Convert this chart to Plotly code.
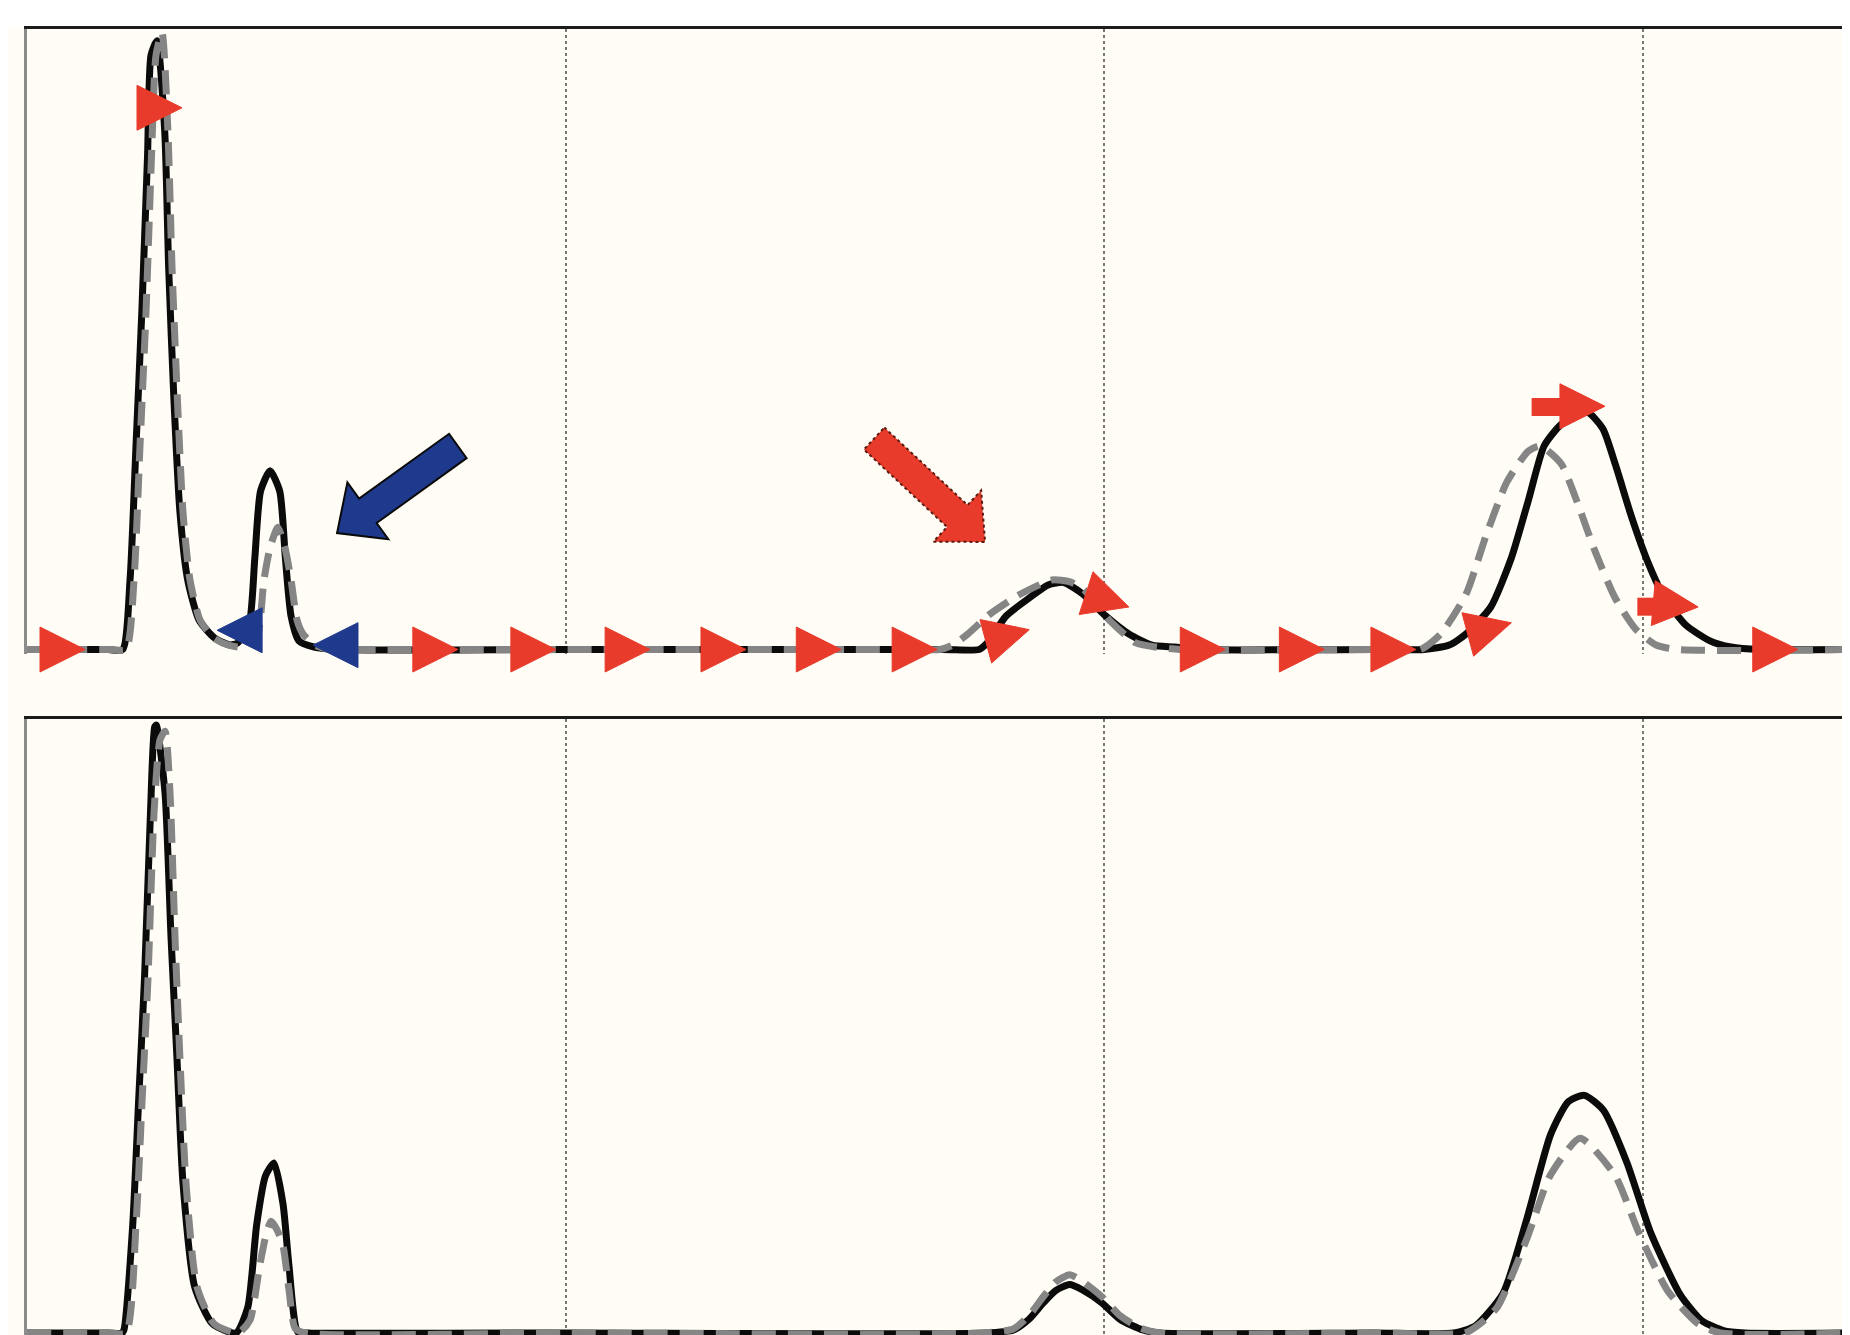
import math
import plotly.graph_objects as go

# ---------------- data (x: time units, y: % of tallest peak) -------------
TOP_BLACK_X = [0, 1.50, 1.775, 1.913, 2.024, 2.132, 2.238, 2.303, 2.414, 2.559, 2.630, 2.730, 2.841,
               2.984, 3.194, 3.484, 3.770, 3.909, 4.123, 4.230, 4.336, 4.513, 4.693, 4.798, 4.903, 5.049,
               5.33, 5.8, 10, 17.0, 17.68, 17.83, 18.18, 18.61, 18.96, 19.25, 19.61, 20.03, 20.46, 20.89,
               21.31, 21.78, 25.0, 25.94, 26.41, 26.72, 27.18, 27.56, 27.88, 28.17, 28.49, 28.95, 29.26,
               29.49, 29.80, 30.10, 30.41, 30.80, 31.25, 31.64, 32.18, 33.9]
TOP_BLACK_Y = [0, 0, 0, 11.2, 32.8, 54.4, 79.5, 95.8, 98.1, 83.2, 61.6, 39.9, 22.0,
               11.2, 4.75, 1.85, 0.72, 1.05, 3.95, 14.7, 25.5, 28.8, 25.5, 14.7, 5.4, 1.4,
               0.4, 0, 0, 0, 0, 1.05, 5.4, 8.3, 10.4, 10.8, 8.9, 5.4, 2.5, 0.72,
               0.4, 0, 0, 0, 0.72, 2.5, 6.85, 14.7, 24.1, 32.8, 36.3, 38.4, 35.6,
               29.9, 21.2, 14.0, 8.3, 3.95, 1.4, 0.4, 0, 0]

TOP_GRAY_X = [0, 1.55, 1.838, 1.987, 2.098, 2.21, 2.312, 2.396, 2.507, 2.618, 2.693, 2.795, 2.897,
              3.027, 3.213, 3.47, 3.733, 3.956, 4.253, 4.40, 4.513, 4.657, 4.79, 4.903, 5.014, 5.125,
              5.348, 5.63, 6.2, 10, 16.5, 16.95, 17.19, 17.47, 17.88, 18.44, 19.03, 19.37, 19.61,
              20.10, 20.59, 20.96, 21.41, 25.0, 25.87, 26.25, 26.72, 27.09, 27.48, 27.88, 28.10,
              28.49, 28.80, 29.10, 29.49, 29.87, 30.25, 30.64, 33.9]
TOP_GRAY_Y = [0, 0, 0, 11.2, 32.8, 54.4, 79.5, 95.8, 99.4, 83.2, 61.6, 39.9, 22.0,
              11.2, 4.75, 1.85, 0.72, 0.4, 1.5, 11.2, 16.4, 19.7, 16.4, 11.2, 4.75, 2.5,
              0.7, 0, 0, 0, 0, 0, 0.72, 2.5, 5.7, 8.9, 11.2, 10.9, 9.75,
              4.7, 1.05, 0.4, 0, 0, 0, 2.5, 8.9, 18.3, 27.0, 32.0, 32.8,
              29.9, 23.4, 16.2, 8.3, 3.3, 0.72, 0, 0]

BOT_BLACK_X = [0, 1.50, 1.764, 1.80, 1.963, 2.072, 2.182, 2.292, 2.37, 2.40, 2.563, 2.674, 2.786,
               2.897, 3.114, 3.443, 3.88, 4.10, 4.264, 4.429, 4.587, 4.754, 4.865, 5.03, 5.26, 10,
               17.8, 18.32, 18.6, 18.87, 19.1, 19.36, 19.6, 19.96, 20.3, 20.72, 21.04, 25, 26.5,
               26.9, 27.41, 27.86, 28.29, 28.62, 28.92, 29.27, 29.71, 30.15, 30.70, 31.1, 31.5, 31.9, 33.9]
BOT_BLACK_Y = [0, 0, 0, 0.5, 17.6, 37.7, 57.8, 84.6, 98.7, 99.0, 87.9, 64.5, 44.5,
               24.3, 7.5, 1.5, 0, 4.2, 17.6, 25.6, 27.7, 21.0, 10.9, 0.16, 0, 0,
               0, 0.5, 2.2, 4.9, 6.9, 7.9, 7.0, 4.9, 2.2, 0.5, 0, 0, 0,
               1.2, 6.5, 18.9, 32.3, 37.7, 38.7, 36.3, 27.7, 16.3, 6.2, 2.0, 0.4, 0, 0]

BOT_GRAY_X = [0, 1.55, 1.838, 2.024, 2.136, 2.247, 2.358, 2.47, 2.563, 2.656, 2.748, 2.841, 2.953,
              3.157, 3.473, 3.918, 4.14, 4.319, 4.438, 4.531, 4.643, 4.754, 4.865, 4.977, 5.16, 10,
              17.7, 18.31, 18.6, 18.87, 19.1, 19.36, 19.6, 19.96, 20.3, 20.67, 21.04, 25, 26.70,
              26.95, 27.30, 27.86, 28.28, 28.84, 29.49, 29.93, 30.47, 31.03, 31.44, 33.9]
BOT_GRAY_Y = [0, 0, 0, 17.6, 37.7, 57.8, 84.6, 96.6, 98.0, 87.9, 64.5, 44.5, 24.3,
              7.5, 1.5, 0, 2.1, 10.9, 16.0, 18.2, 16.8, 14.2, 7.0, 0.8, 0, 0,
              0, 0.65, 2.8, 5.9, 8.3, 9.5, 8.4, 5.9, 2.8, 0.8, 0, 0, 0,
              1.3, 4.2, 15.6, 25.6, 31.7, 25.6, 16.3, 6.8, 1.5, 0, 0]

# direction markers on the upper trace (tip positions)
RED_MARK_X = [1.077, 2.878, 8.00, 9.82, 11.57, 13.35, 15.12, 16.90, 18.61, 20.46,
              22.25, 24.09, 25.79, 27.56, 29.30, 31.03, 32.88, 34.6]
RED_MARK_Y = [0, 87.3, 0, 0, 0, 0, 0, 0, 3.2, 6.85, 0, 0, 0, 4.3, 39.2, 6.85, 0, 0]
RED_MARK_ANGLE = [0, 0, 0, 0, 0, 0, 0, 0, -15, 18, 0, 0, 0, -15, 0, 5, 0, 0]
# short shafts trailing two of the red markers
RED_SHAFT_X = [28.25, 30.07]
RED_SHAFT_Y = [39.1, 6.9]
RED_SHAFT_LEN = [24, 13]
BLUE_MARK_X = [3.53, 5.31]
BLUE_MARK_Y = [3.1, 0.7]

# call-out arrows (tail -> tip) in upper-panel data units
BLUE_ARROW = dict(tail=(8.00, 32.8), tip=(5.757, 18.77))
RED_ARROW = dict(tail=(15.73, 34.0), tip=(17.79, 17.33))

GRID_TICKS = [0, 10, 20, 30]

# ---------------- layout geometry (page body adds an 8px offset) ----------------
OFF = 8
W, H = 1850 - OFF, 1335 - OFF
LEFT_PX = 27 - OFF
X_MAX = 33.85
TOP1, BASE1, BOT1 = 29 - OFF, 649.5 - OFF, 654 - OFF
TOP2, BASE2, BOT2 = 719 - OFF, 1333 - OFF, 1335 - OFF
Y_MAX = 100

SX = (W - LEFT_PX) / X_MAX
SY1 = (BASE1 - TOP1) / Y_MAX
SY2 = (BASE2 - TOP2) / Y_MAX
Y1_MIN = -(BOT1 - BASE1) / SY1
Y2_MIN = -(BOT2 - BASE2) / SY2

CREAM = "#FFFDF6"
BLACK = "#0b0b0b"
GRAY = "#858585"
RED = "#E93B2B"
BLUE = "#1F3A8C"


def arrow_path(tail, tip, sx, sy, shaft_hw=15, head_hw=35, head_len=38):
    tx, ty = tail[0] * sx, tail[1] * sy
    px, py = tip[0] * sx, tip[1] * sy
    dx, dy = px - tx, py - ty
    L = math.hypot(dx, dy)
    ux, uy = dx / L, dy / L
    nx, ny = -uy, ux
    neckx, necky = px - ux * head_len, py - uy * head_len
    pts = [
        (tx + nx * shaft_hw, ty + ny * shaft_hw),
        (neckx + nx * shaft_hw, necky + ny * shaft_hw),
        (neckx + nx * head_hw, necky + ny * head_hw),
        (px, py),
        (neckx - nx * head_hw, necky - ny * head_hw),
        (neckx - nx * shaft_hw, necky - ny * shaft_hw),
        (tx - nx * shaft_hw, ty - ny * shaft_hw),
    ]
    return "M " + " L ".join(f"{x / sx:.4f},{y / sy:.4f}" for x, y in pts) + " Z"


fig = go.Figure()

line_kw = dict(mode="lines", hoverinfo="skip", showlegend=False)
spl = dict(shape="spline", smoothing=0.6)
DASH = "24px,12px"

# upper panel
fig.add_trace(go.Scatter(x=TOP_BLACK_X, y=TOP_BLACK_Y, xaxis="x", yaxis="y",
                         line=dict(color=BLACK, width=7, **spl), **line_kw))
fig.add_trace(go.Scatter(x=TOP_GRAY_X, y=TOP_GRAY_Y, xaxis="x", yaxis="y",
                         line=dict(color=GRAY, width=7, dash=DASH, **spl), **line_kw))
fig.add_trace(go.Scatter(x=RED_SHAFT_X, y=RED_SHAFT_Y, xaxis="x", yaxis="y", mode="markers",
                         cliponaxis=False, hoverinfo="skip", showlegend=False,
                         marker=dict(symbol="line-ew", size=RED_SHAFT_LEN, color=RED, opacity=1,
                                     line=dict(color=RED, width=18))))
fig.add_trace(go.Scatter(x=RED_MARK_X, y=RED_MARK_Y, xaxis="x", yaxis="y", mode="markers",
                         cliponaxis=False, hoverinfo="skip", showlegend=False,
                         marker=dict(symbol="arrow-right", size=45, color=RED, angle=RED_MARK_ANGLE,
                                     opacity=1, line=dict(color=RED, width=1))))
fig.add_trace(go.Scatter(x=BLUE_MARK_X, y=BLUE_MARK_Y, xaxis="x", yaxis="y", mode="markers",
                         cliponaxis=False, hoverinfo="skip", showlegend=False,
                         marker=dict(symbol="arrow-left", size=45, color=BLUE, opacity=1,
                                     line=dict(color=BLUE, width=1))))

# lower panel
fig.add_trace(go.Scatter(x=BOT_BLACK_X, y=BOT_BLACK_Y, xaxis="x2", yaxis="y2",
                         line=dict(color=BLACK, width=7, **spl), **line_kw))
fig.add_trace(go.Scatter(x=BOT_GRAY_X, y=BOT_GRAY_Y, xaxis="x2", yaxis="y2",
                         line=dict(color=GRAY, width=7, dash=DASH, **spl), **line_kw))

xcommon = dict(range=[0, X_MAX], domain=[LEFT_PX / W, 1], showgrid=True, gridcolor="#777777",
               griddash="dot", gridwidth=2, tickmode="array", tickvals=GRID_TICKS,
               showticklabels=False, ticks="", zeroline=False, showline=True,
               linecolor="#1c1c1c", linewidth=3, side="top", fixedrange=True)
ycommon = dict(showgrid=False, zeroline=False, showticklabels=False, ticks="",
               showline=True, linecolor="#8c8c8c", linewidth=3, fixedrange=True)

shapes = [
    dict(type="rect", xref="paper", yref="paper", x0=0, x1=1, y0=1 - (TOP1 - 1.5) / H, y1=1,
         fillcolor="white", line=dict(width=0), layer="below"),
    dict(type="path", xref="x", yref="y", path=arrow_path(BLUE_ARROW["tail"], BLUE_ARROW["tip"], SX, SY1),
         fillcolor=BLUE, line=dict(color="#0a0a0a", width=2)),
    dict(type="path", xref="x", yref="y", path=arrow_path(RED_ARROW["tail"], RED_ARROW["tip"], SX, SY1),
         fillcolor=RED, line=dict(color="#5a1a10", width=2, dash="dot")),
]

fig.update_layout(
    width=W, height=H,
    margin=dict(l=0, r=0, t=0, b=0),
    paper_bgcolor=CREAM, plot_bgcolor=CREAM,
    xaxis=dict(anchor="y", **xcommon),
    yaxis=dict(anchor="x", domain=[1 - BOT1 / H, 1 - TOP1 / H], range=[Y1_MIN, Y_MAX], **ycommon),
    xaxis2=dict(anchor="y2", **xcommon),
    yaxis2=dict(anchor="x2", domain=[0, 1 - TOP2 / H], range=[Y2_MIN, Y_MAX], **ycommon),
    shapes=shapes,
    showlegend=False,
)

fig.write_html("out.html")
